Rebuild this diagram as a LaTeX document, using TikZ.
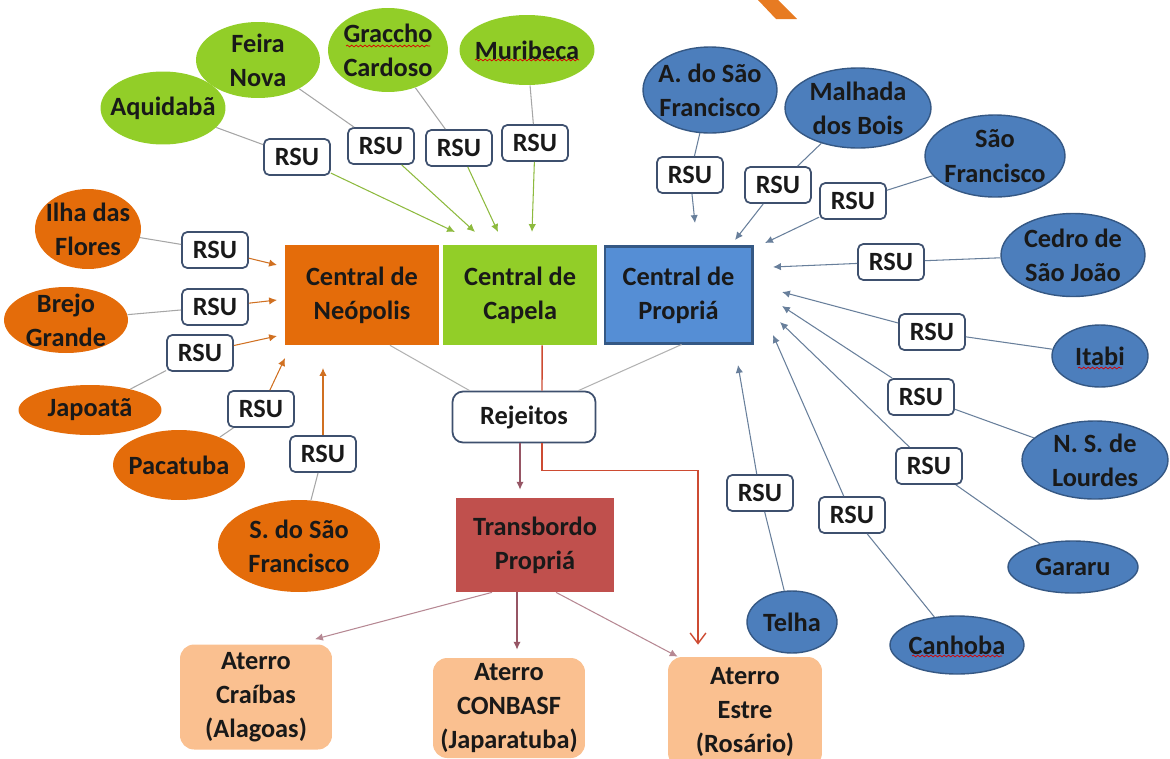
\documentclass[tikz,border=0pt]{standalone}
\usepackage{fontspec}
\setmainfont{Carlito}
\usetikzlibrary{arrows.meta, calc, positioning, shapes.geometric, decorations.pathmorphing}

\definecolor{neoorange}{RGB}{228,108,10}
\definecolor{capgreen}{RGB}{146,206,40}
\definecolor{proprbox}{RGB}{85,142,213}
\definecolor{propblue}{RGB}{76,126,188}
\definecolor{transred}{RGB}{192,80,77}
\definecolor{aterrofill}{RGB}{250,192,144}
\definecolor{rsuline}{RGB}{62,80,110}
\definecolor{redline}{RGB}{205,75,50}
\definecolor{mauve}{RGB}{150,85,100}

\tikzset{larrow/.style = {-{Latex[length=.45em, width=.42em]}}}
\tikzset{rsubox/.style = {draw=rsuline, line width=1pt, rounded corners=3pt, fill=white,
                          minimum width=1.32cm, minimum height=.72cm, inner sep=0pt}}
\tikzset{city/.style = {ellipse, inner sep=-2em, align=center}}
\tikzset{greencity/.style = {city, fill=capgreen}}
\tikzset{orangecity/.style = {city, fill=neoorange}}
\tikzset{bluecity/.style = {city, fill=propblue, draw=propblue!70!black, line width=.8pt}}
\tikzset{central/.style = {minimum height=2cm, inner sep=0pt, align=center}}
\tikzset{aterro/.style = {fill=aterrofill, rounded corners=8pt, minimum width=3.04cm,
                          inner sep=0pt, align=center}}
\tikzset{spell/.style = {red!85!black, line width=.4pt, decorate,
                         decoration={snake, amplitude=.5pt, segment length=2.5pt}}}

\begin{document}
\begin{tikzpicture}[x=0.02cm, y=-0.02cm,
    every node/.style={font=\bfseries\fontsize{15}{19.5}\selectfont, text=black!90}]
    \useasboundingbox (0,0) rectangle (1170,758);

    % piece of the slide decoration
    \fill[neoorange!90] (758,0) -- (778,0) -- (797,19) -- (776,19) -- cycle;

    % centrals
    \node[central, fill=neoorange, minimum width=3.1cm] (neopolis) at (362,295) {Central de\\Neópolis};
    \node[central, fill=capgreen, minimum width=3.08cm, right=0.06cm of neopolis] (capela) {Central de\\Capela};
    \node[central, fill=proprbox, draw=propblue!70!black, line width=1.2pt, minimum width=2.96cm,
          minimum height=1.94cm, right=0.12cm of capela] (propria) {Central de\\Propriá};

    \node[rsubox, rounded corners=6pt, minimum width=2.86cm, minimum height=1.02cm] (rejeitos) at (524,417) {Rejeitos};
    \node[central, fill=transred, minimum width=3.16cm, minimum height=1.88cm] (transbordo) at (535,545) {Transbordo\\Propriá};

    \node[aterro, minimum height=2.1cm] (craibas) at (256,697) {Aterro\\Craíbas\\(Alagoas)};
    \node[aterro, minimum height=2.0cm] (conbasf) at (509,708) {Aterro\\CONBASF\\(Japaratuba)};
    \node[aterro, minimum height=2.2cm, minimum width=3.08cm] (estre) at (745,712) {Aterro\\Estre\\(Rosário)};

    % municipios de Capela
    \node[greencity, minimum width=2.5cm,  minimum height=1.46cm] (aquidaba) at (163,108) {Aquidabã};
    \node[greencity, minimum width=2.48cm, minimum height=1.52cm] (feira)    at (258,60)  {Feira\\Nova};
    \node[greencity, minimum width=2.4cm,  minimum height=1.68cm] (graccho)  at (388,50)  {Graccho\\Cardoso};
    \node[greencity, minimum width=2.7cm,  minimum height=1.4cm]  (muribeca) at (527,50)  {Muribeca};

    % municipios de Neopolis
    \node[orangecity, minimum width=2.12cm, minimum height=1.6cm]  (ilha)     at (88,229)  {Ilha das\\Flores};
    \node[orangecity, minimum width=2.48cm, minimum height=1.32cm] (brejo)    at (66,320)  {Brejo\\Grande};
    \node[orangecity, minimum width=2.86cm, minimum height=1cm]    (japoata)  at (90,410)  {Japoatã};
    \node[orangecity, minimum width=2.64cm, minimum height=1.4cm]  (pacatuba) at (179,465) {Pacatuba};
    \node[orangecity, minimum width=3.24cm, minimum height=1.84cm] (ssf)      at (299,546) {S. do São\\Francisco};

    % municipios de Propria
    \node[bluecity, minimum width=2.68cm, minimum height=1.72cm] (asf)     at (710,90)   {A. do São\\Francisco};
    \node[bluecity, minimum width=2.92cm, minimum height=1.6cm]  (malhada) at (858,108)  {Malhada\\dos Bois};
    \node[bluecity, minimum width=2.8cm,  minimum height=1.64cm] (saofr)   at (995,156)  {São\\Francisco};
    \node[bluecity, minimum width=2.88cm, minimum height=1.66cm] (cedro)   at (1073,255) {Cedro de\\São João};
    \node[bluecity, minimum width=1.92cm, minimum height=1.24cm] (itabi)   at (1100,356) {Itabi};
    \node[bluecity, minimum width=2.92cm, minimum height=1.56cm] (lourdes) at (1095,460) {N. S. de\\Lourdes};
    \node[bluecity, minimum width=2.6cm,  minimum height=1.04cm] (gararu)  at (1073,567) {Gararu};
    \node[bluecity, minimum width=2.68cm, minimum height=1.16cm] (canhoba) at (957,645)  {Canhoba};
    \node[bluecity, minimum width=1.8cm,  minimum height=1.24cm] (telha)   at (792,622)  {Telha};

    % spell check marks
    \draw[spell] ($(graccho)+(-42,-4)$)  -- ($(graccho)+(42,-4)$);
    \draw[spell] ($(muribeca)+(-52,10)$) -- ($(muribeca)+(52,10)$);
    \draw[spell] ($(itabi)+(-22,12)$)    -- ($(itabi)+(22,12)$);
    \draw[spell] ($(canhoba)+(-45,11)$)  -- ($(canhoba)+(45,11)$);

    % RSU boxes and arrow ends
    \foreach \Rsu/\X/\Y/\Tx/\Ty in {%
        g1/297/157/455/232, g2/381/146/475/232, g3/459/148/498/232, g4/535/143/532/232,
        o1/215/250/277/265, o2/215/307/277/300, o3/200/353/277/336, o4/261/409/285/358, o5/323/454/323/368,
        b1/690/175/695/223, b2/778/185/735/240, b3/853/201/765/243, b4/891/262/773/267,
        b5/932/332/782/292, b6/921/397/782/306, b7/929/466/780/322, b8/852/515/773/335,
        b9/760/493/738/365%
    }{
        \node[rsubox] (\Rsu) at (\X,\Y) {RSU};
        \coordinate (t\Rsu) at (\Tx,\Ty);
    }

    \foreach \City/\Rsu in {aquidaba/g1, feira/g2, graccho/g3, muribeca/g4} {
        \draw[black!35, line width=.6pt] (\City) -- (\Rsu);
        \draw[larrow, capgreen!75!gray, line width=.6pt] (\Rsu) -- (t\Rsu);
    }
    \foreach \City/\Rsu in {ilha/o1, brejo/o2, japoata/o3, pacatuba/o4, ssf/o5} {
        \draw[black!35, line width=.6pt] (\City) -- (\Rsu);
        \draw[larrow, neoorange!80!gray, line width=.6pt] (\Rsu) -- (t\Rsu);
    }
    \foreach \City/\Rsu in {asf/b1, malhada/b2, saofr/b3, cedro/b4, itabi/b5,
                            lourdes/b6, gararu/b7, canhoba/b8, telha/b9} {
        \draw[propblue!45!gray, line width=.6pt] (\City) -- (\Rsu);
        \draw[larrow, propblue!45!gray, line width=.6pt] (\Rsu) -- (t\Rsu);
    }

    % rejeitos
    \draw[black!30, line width=.6pt] ($(neopolis.south)+(28,0)$) -- ($(rejeitos.north west)+(18,0)$);
    \draw[black!30, line width=.6pt] ($(propria.south)+(3,0)$) -- ($(rejeitos.north east)+(-18,0)$);
    \draw[redline, line width=.8pt] ($(capela.south)+(22,0)$) -- ($(rejeitos.north)+(18,0)$);
    \draw[redline, line width=.8pt, -{Straight Barb[length=.6em, width=.9em]}]
        ($(rejeitos.south)+(18,0)$) -- ++(0,27) -| ($(estre.north)+(-47,-12)$);
    \draw[larrow, mauve, line width=.7pt] ($(rejeitos.south)+(-4,0)$) -- ($(transbordo.north)+(-15,-8)$);

    % transbordo to aterros
    \draw[larrow, mauve!70, line width=.6pt] ($(transbordo.south)+(-43,0)$) -- ($(craibas.north)+(59,-5)$);
    \draw[larrow, mauve, line width=.7pt] ($(transbordo.south)+(-18,0)$) -- ($(conbasf.north)+(8,-8)$);
    \draw[larrow, mauve!70, line width=.6pt] ($(transbordo.south)+(21,0)$) -- ($(estre.north west)+(10,0)$);
\end{tikzpicture}
\end{document}
